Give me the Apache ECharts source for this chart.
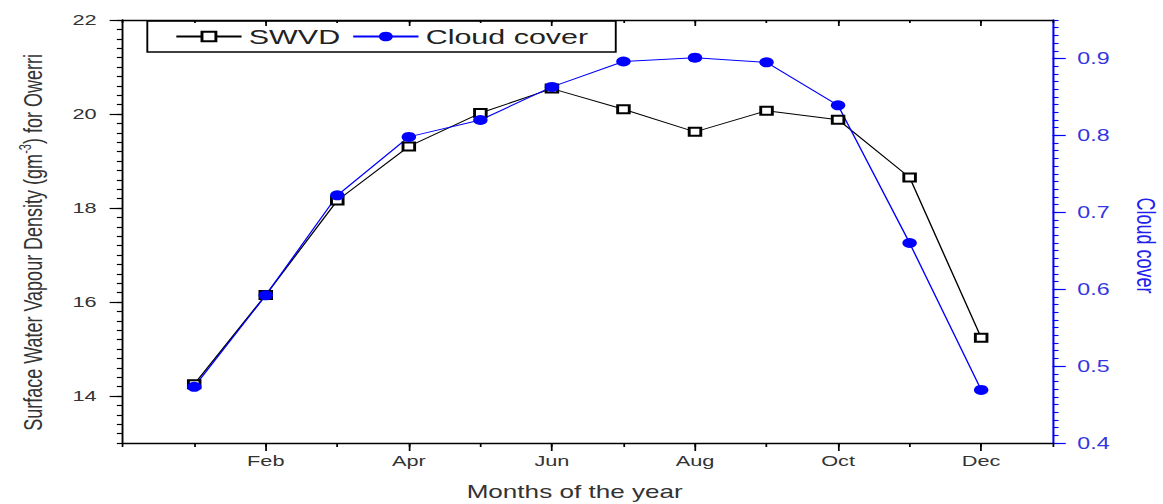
<!DOCTYPE html>
<html><head><meta charset="utf-8">
<script src="https://cdn.jsdelivr.net/npm/echarts@6/dist/echarts.min.js"></script>
<style>
html,body{margin:0;padding:0;background:#fff;overflow:hidden;width:1163px;height:504px}
#c{width:802px;height:504px;transform:scaleX(1.45);transform-origin:0 0}
</style></head>
<body><div id="c"></div>
<script>
const months = ['Jan','Feb','Mar','Apr','May','Jun','Jul','Aug','Sep','Oct','Nov','Dec'];
const monthNumbers = [1,2,3,4,5,6,7,8,9,10,11,12];
const swvd = [14.25, 16.15, 18.16, 19.31, 20.02, 20.54, 20.10, 19.62, 20.07, 19.88, 18.65, 15.24];
const cloudCover = [0.473, 0.592, 0.722, 0.798, 0.820, 0.863, 0.896, 0.901, 0.895, 0.839, 0.660, 0.469];
const monthTicks = [2,4,6,8,10,12];
const leftTicks = [14,16,18,20,22];
const rightTicks = [0.4,0.5,0.6,0.7,0.8,0.9];

const FONT = "'Liberation Sans', Arial, sans-serif";
const BLUE = '#0000ff';
const chart = echarts.init(document.getElementById('c'), null, {renderer:'svg'});

const blackLine = {color:'#000', width:1.3};
const noSplit = {show:false};

chart.setOption({
  animation:false,
  textStyle:{fontFamily:FONT},
  grid:{left:84.6, right:76, top:20, bottom:61, outerBoundsMode:'none', containLabel:false},
  legend:{
    left:101.6, top:21, padding:[5,19,5,19],
    itemWidth:45, itemHeight:12, itemGap:8,
    borderColor:'#000', borderWidth:1.3,
    textStyle:{fontSize:21, color:'#222', fontFamily:FONT},
    data:['SWVD','Cloud cover']
  },
  xAxis:[
    {type:'value', position:'bottom', min:0, max:13, interval:1,
     axisLine:{onZero:false, lineStyle:blackLine},
     axisTick:{customValues:monthTicks, length:8, lineStyle:{color:'#000', width:1.2}},
     axisLabel:{customValues:monthTicks, formatter:v=>months[v-1], fontSize:15, color:'#333', margin:10},
     splitLine:noSplit,
     name:'Months of the year', nameLocation:'middle', nameGap:40,
     nameTextStyle:{fontSize:18, color:'#333', padding:[0,18,0,0]}},
    {type:'value', position:'bottom', min:0, max:13, interval:1,
     axisLine:{show:false, onZero:false},
     axisTick:{length:4, lineStyle:{color:'#000', width:1.2}},
     axisLabel:{show:false}, splitLine:noSplit},
    {type:'value', position:'top', min:0, max:13, interval:1,
     axisLine:{onZero:false, lineStyle:blackLine},
     axisTick:{inside:true, customValues:monthTicks, length:6, lineStyle:{color:'#000', width:1.2}},
     axisLabel:{show:false}, splitLine:noSplit},
    {type:'value', position:'top', min:0, max:13, interval:1,
     axisLine:{show:false, onZero:false},
     axisTick:{inside:true, length:3, lineStyle:{color:'#000', width:1.2}},
     axisLabel:{show:false}, splitLine:noSplit}
  ],
  yAxis:[
    {type:'value', position:'left', min:13, max:22, interval:1,
     axisLine:{show:true, onZero:false, lineStyle:blackLine},
     axisTick:{show:true, customValues:leftTicks, length:9, lineStyle:{color:'#000', width:1.2}},
     axisLabel:{customValues:leftTicks, fontSize:15, color:'#333', margin:18},
     splitLine:noSplit,
     name:'Surface Water Vapour Density (gm{sup|-3}) for Owerri',
     nameLocation:'middle', nameRotate:90, nameGap:52,
     nameTextStyle:{fontSize:18, color:'#333', padding:[0,22,0,0],
       rich:{sup:{fontSize:11, color:'#333', verticalAlign:'top', padding:[0,0,9,0]}}}},
    {type:'value', position:'left', min:13, max:22, interval:0.2,
     axisLine:{show:false, onZero:false},
     axisTick:{show:true, length:4, lineStyle:{color:'#000', width:1.2}},
     axisLabel:{show:false}, splitLine:noSplit},
    {type:'value', position:'right', min:0.4, max:0.95, interval:0.1,
     axisLine:{show:true, onZero:false, lineStyle:{color:BLUE, width:1.4}},
     axisTick:{show:true, customValues:rightTicks, length:9, lineStyle:{color:BLUE, width:1.2}},
     axisLabel:{customValues:rightTicks, formatter:v=>v.toFixed(1), fontSize:16, color:'#3535e0', margin:17},
     splitLine:noSplit,
     name:'Cloud cover', nameLocation:'middle', nameRotate:-90, nameGap:55,
     nameTextStyle:{fontSize:18, color:'#2020ee', padding:[0,0,0,28]}},
    {type:'value', position:'right', min:0.4, max:0.95, interval:0.01,
     axisLine:{show:false, onZero:false},
     axisTick:{show:true, length:4, lineStyle:{color:BLUE, width:1.1}},
     axisLabel:{show:false}, splitLine:noSplit}
  ],
  series:[
    {name:'SWVD', type:'line', xAxisIndex:0, yAxisIndex:0,
     data:monthNumbers.map((m,i)=>[m, swvd[i]]),
     symbol:'emptyRect', symbolSize:8, color:'#000',
     lineStyle:{color:'#000', width:1},
     itemStyle:{color:'#000', borderWidth:1.3}},
    {name:'Cloud cover', type:'line', xAxisIndex:0, yAxisIndex:2,
     data:monthNumbers.map((m,i)=>[m, cloudCover[i]]),
     symbol:'circle', symbolSize:10, color:BLUE,
     lineStyle:{color:BLUE, width:1},
     itemStyle:{color:BLUE}}
  ]
});
</script></body></html>
